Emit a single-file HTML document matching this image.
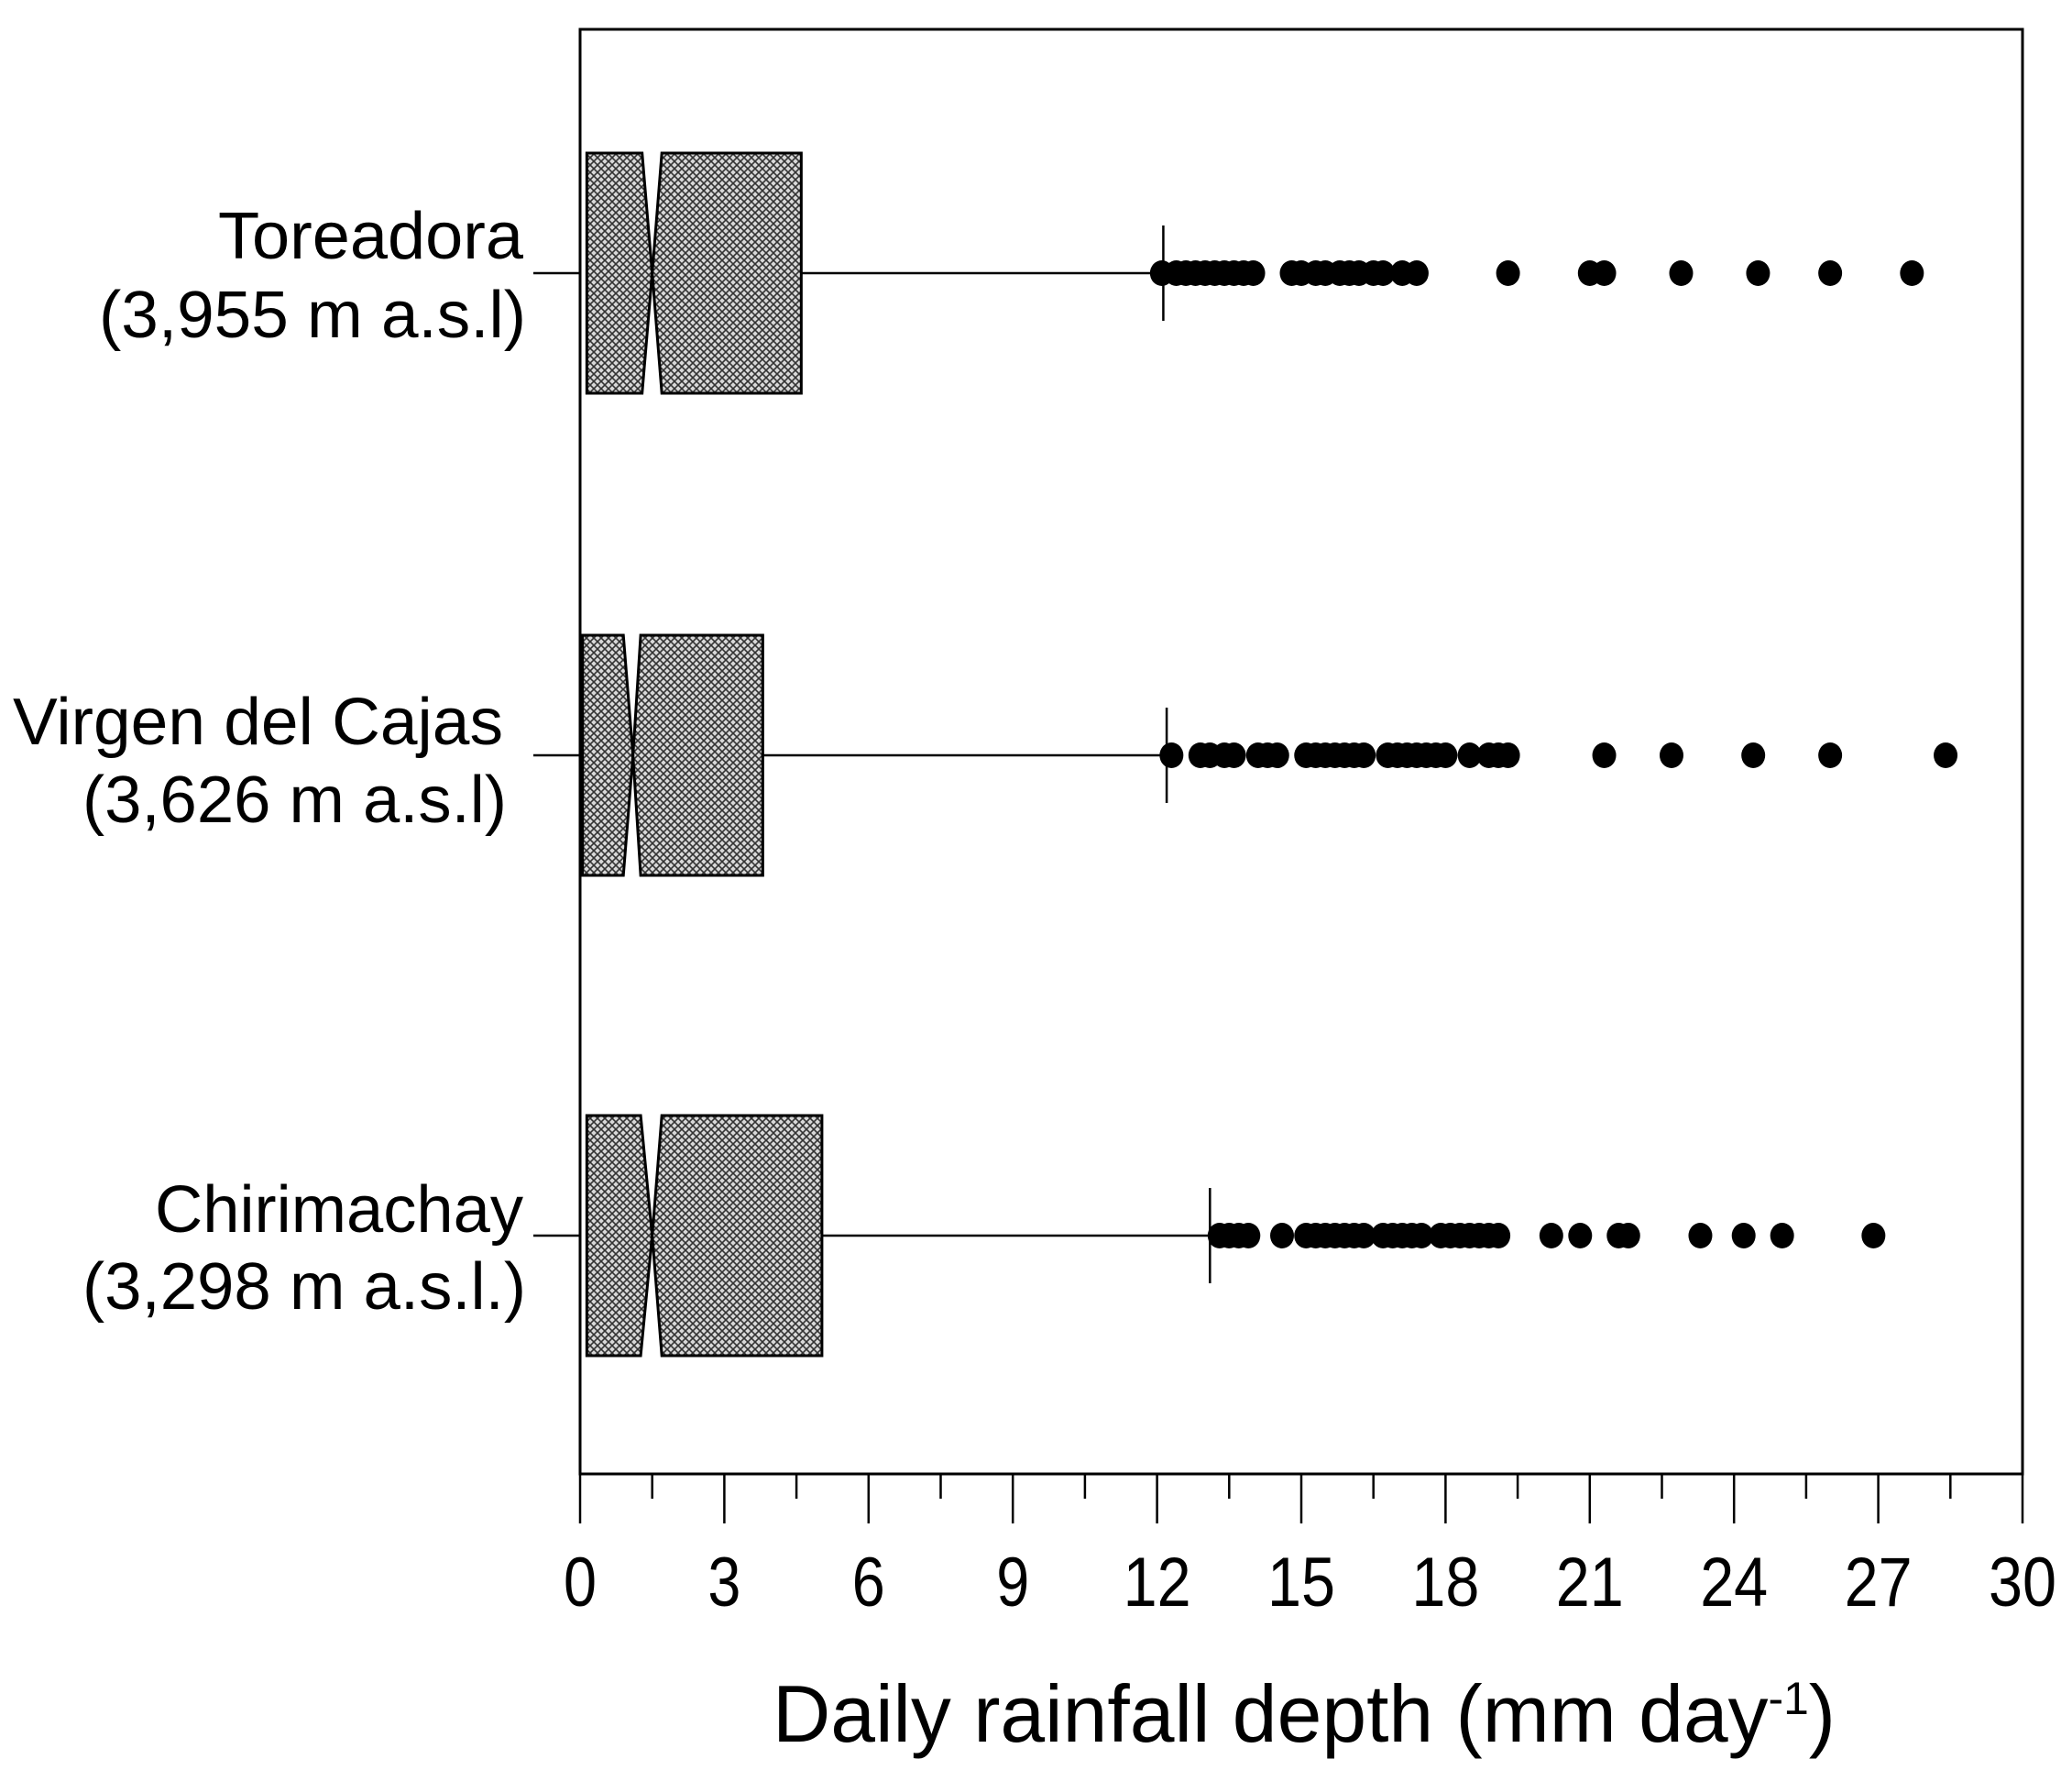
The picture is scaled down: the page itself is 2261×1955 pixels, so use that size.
<!DOCTYPE html>
<html><head><meta charset="utf-8"><style>html,body{margin:0;padding:0;background:#fff}svg{display:block}</style></head>
<body>
<svg id="chart" width="2261" height="1955" viewBox="0 0 2261 1955" xmlns="http://www.w3.org/2000/svg" font-family="'Liberation Sans', sans-serif">
<defs>
<pattern id="hatch" width="8" height="8" patternUnits="userSpaceOnUse">
<rect width="8" height="8" fill="#d8d8d8"/>
<path d="M0,0L8,8M8,0L0,8" stroke="#333" stroke-width="1.6"/>
</pattern>
</defs>
<g id="plot"></g>
</svg>
<script>
const stations = ["Toreadora", "Virgen del Cajas", "Chirimachay"];
const elevations = ["(3,955 m a.s.l)", "(3,626 m a.s.l)", "(3,298 m a.s.l.)"];
const q1 = [0.14, 0.05, 0.14];
const medians = [1.5, 1.1, 1.5];
const notchLo = [1.29, 0.9, 1.26];
const notchHi = [1.7, 1.26, 1.7];
const q3 = [4.6, 3.8, 5.03];
const whiskerHi = [12.13, 12.2, 13.1];
const outliers0 = [12.1,12.4,12.6,12.8,13.0,13.2,13.4,13.6,13.8,14.0,14.8,15.0,15.3,15.5,15.8,16.0,16.2,16.5,16.7,17.1,17.4,19.3,21.0,21.3,22.9,24.5,26.0,27.7];
const outliers1 = [12.3,12.9,13.1,13.4,13.6,14.1,14.3,14.5,15.1,15.3,15.5,15.7,15.9,16.1,16.3,16.8,17.0,17.2,17.4,17.6,17.8,18.0,18.5,18.9,19.1,19.3,21.3,22.7,24.4,26.0,28.4];
const outliers2 = [13.3,13.5,13.7,13.9,14.6,15.1,15.3,15.5,15.7,15.9,16.1,16.3,16.7,16.9,17.1,17.3,17.5,17.9,18.1,18.3,18.5,18.7,18.9,19.1,20.2,20.8,21.6,21.8,23.3,24.2,25.0,26.9];
const tickLabels = ["0","3","6","9","12","15","18","21","24","27","30"];
const xMin = 0, xMax = 30;

const NS = "http://www.w3.org/2000/svg";
const g = document.getElementById("plot");
const L = 633, R = 2207, T = 32, B = 1608;
const X = v => L + (v - xMin) / (xMax - xMin) * (R - L);
const centers = [298, 824, 1348];
const halfH = 131, capH = 52;
function mk(tag, attrs, parent){const e=document.createElementNS(NS,tag);for(const k in attrs)e.setAttribute(k,attrs[k]);(parent||g).appendChild(e);return e;}

const frame = mk("rect",{x:L,y:T,width:R-L,height:B-T,fill:"none",stroke:"#000","stroke-width":3});



for (let i = 0; i <= 20; i++) {
  const v = xMin + i * 1.5;
  const major = i % 2 === 0;
  const t = mk("line",{x1:X(v),x2:X(v),y1:B,y2:B+(major?54:27),stroke:"#000","stroke-width":2.5});
  
  
}
tickLabels.forEach((lab, i) => {
  const attrs = {x:X(+lab),y:1752,"text-anchor":"middle","font-size":76};
  if (lab.length === 2) { attrs.textLength = 74; attrs.lengthAdjust = "spacingAndGlyphs"; }
  else { attrs.textLength = 36; attrs.lengthAdjust = "spacingAndGlyphs"; }
  const t = mk("text",attrs);
  t.textContent = lab;
  
  
});
const title = mk("text",{x:843,y:1900,"font-size":88,textLength:1160,lengthAdjust:"spacingAndGlyphs"});


title.textContent = "Daily rainfall depth (mm day";
const sup = mk("tspan",{dy:-30,"font-size":50},title);
sup.textContent = "-1";
const cl = mk("tspan",{dy:30},title);
cl.textContent = ")";

const labelInfo = [
  {w1:333, w2:466, r1:571, r2:574, b1:282, b2:368},
  {w1:535, w2:463, r1:549, r2:553, b1:812, b2:897},
  {w1:402, w2:484, r1:571, r2:574, b1:1344, b2:1428}
];
const outlierSets = [outliers0, outliers1, outliers2];
stations.forEach((s, i) => {
  const cy = centers[i];
  const li = labelInfo[i];
  const t1 = mk("text",{x:li.r1-li.w1,y:li.b1,"font-size":72,textLength:li.w1,lengthAdjust:"spacingAndGlyphs"});
  t1.textContent = s;
  
  
  const t2 = mk("text",{x:li.r2-li.w2,y:li.b2,"font-size":72,textLength:li.w2,lengthAdjust:"spacingAndGlyphs"});
  t2.textContent = elevations[i];
  
  
  const yt = mk("line",{x1:582,x2:L,y1:cy,y2:cy,stroke:"#000","stroke-width":2.5});
  
  

  const wl = mk("line",{x1:X(q3[i]),x2:X(whiskerHi[i]),y1:cy,y2:cy,stroke:"#000","stroke-width":2.5});
  
  
  const wc = mk("line",{x1:X(whiskerHi[i]),x2:X(whiskerHi[i]),y1:cy-capH,y2:cy+capH,stroke:"#000","stroke-width":2.5});
  
  

  const top = cy-halfH, bot = cy+halfH;
  const pL = [[X(q1[i]),top],[X(notchLo[i]),top],[X(medians[i]),cy],[X(notchLo[i]),bot],[X(q1[i]),bot]];
  const pR = [[X(notchHi[i]),top],[X(q3[i]),top],[X(q3[i]),bot],[X(notchHi[i]),bot],[X(medians[i]),cy]];
  const b1 = mk("polygon",{points:pL.map(p=>p.join(",")).join(" "),fill:"url(#hatch)",stroke:"#000","stroke-width":3});
  
  
  const b2 = mk("polygon",{points:pR.map(p=>p.join(",")).join(" "),fill:"url(#hatch)",stroke:"#000","stroke-width":3});
  
  

  outlierSets[i].forEach(v => {
    const c = mk("ellipse",{cx:X(v),cy:cy,rx:13,ry:14,fill:"#000"});
    
    
  });
});
</script>
</body></html>
